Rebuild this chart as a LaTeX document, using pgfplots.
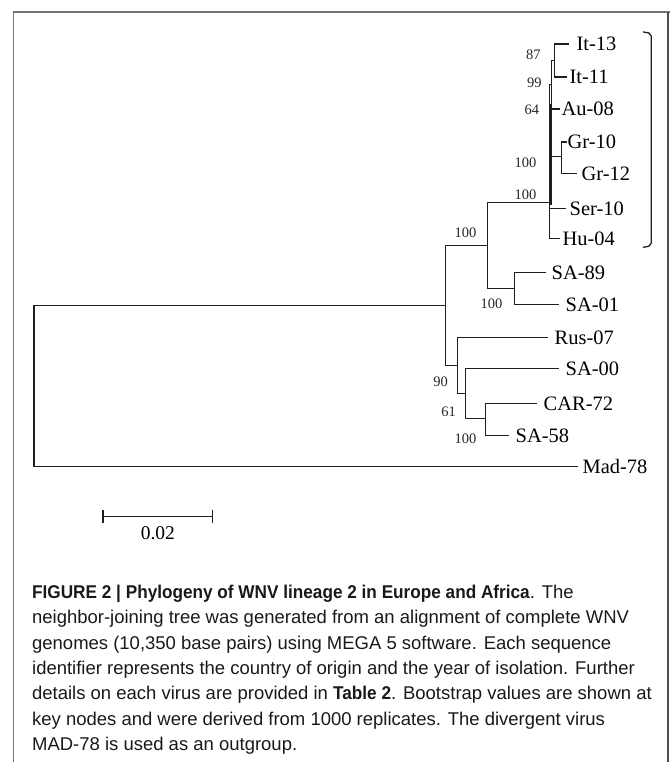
\documentclass[border=0pt]{standalone}
\usepackage{fontspec}
\setmainfont{Liberation Serif}
\newfontfamily\capfont[BoldFeatures={FakeStretch=0.93}]{Liberation Sans}
\usepackage{pgfplots}
\pgfplotsset{compat=1.18}
\begin{document}
\begin{tikzpicture}
\begin{axis}[x=1pt, y=1pt, y dir=reverse, xmin=0, xmax=671, ymin=0, ymax=763,
  hide axis, clip=false,
  tr/.style={line width=1.3pt, color=black!88, mark=none, solid, line join=miter, line cap=rect}]
\path (axis cs:0,0) rectangle (axis cs:671,763);
% frame
\addplot[line width=1.5pt, color=black!55, mark=none, solid] coordinates {(13.3,763)(13.3,12)(671,12)};
\addplot[line width=1.5pt, color=black!70, mark=none, solid] coordinates {(668.5,12)(668.5,763)};
% tree
\addplot[tr] coordinates {(569,44)(555,44)(555,77)(567,77)};
\addplot[tr] coordinates {(555,60.5)(552,60.5)(552,109)(560,109)};
\addplot[tr] coordinates {(567,142)(562,142)(562,174)(577,174)};
\addplot[tr] coordinates {(552,84.75)(550,84.75)(550,239)(560,239)};
\addplot[tr, line width=1.1pt] coordinates {(551.5,105)(551.5,205)};
\addplot[tr] coordinates {(550,157)(562,157)};
\addplot[tr] coordinates {(550,209)(566,209)};
\addplot[tr] coordinates {(550,203)(488,203)(488,289)(515,289)};
\addplot[tr] coordinates {(546,273)(515,273)(515,305)(559,305)};
\addplot[tr] coordinates {(488,246)(446,246)(446,366)(458,366)};
\addplot[tr] coordinates {(548,338)(458,338)(458,394)(466,394)};
\addplot[tr] coordinates {(559,369)(466,369)(466,419)(486,419)};
\addplot[tr] coordinates {(537,404)(486,404)(486,436)(509,436)};
\addplot[tr] coordinates {(446,306)(34,306)(34,467)(578,467)};
% bracket
\addplot[tr, line join=round, line cap=round] coordinates {(644,32)(649.5,33)(651.8,36)(651.8,243.5)(649.5,246.5)(644,247.5)};
% scale bar
\addplot[tr, line cap=butt] coordinates {(103,517)(213,517)};
\addplot[tr, line cap=butt] coordinates {(103,510.5)(103,523.5)};
\addplot[tr, line cap=butt] coordinates {(213,510.5)(213,523.5)};
% leaf labels
\begin{scope}[every node/.style={anchor=base west, inner sep=0pt, font=\fontsize{20.5}{24}\selectfont}]
\node at (axis cs:577,50.5) {It-13};
\node at (axis cs:570,83.5) {It-11};
\node at (axis cs:562,115.5) {Au-08};
\node at (axis cs:568,148.5) {Gr-10};
\node at (axis cs:582,180.5) {Gr-12};
\node at (axis cs:570,215.5) {Ser-10};
\node at (axis cs:563,245.5) {Hu-04};
\node at (axis cs:552,279.5) {SA-89};
\node at (axis cs:566,311.5) {SA-01};
\node at (axis cs:555,344.5) {Rus-07};
\node at (axis cs:566,375.5) {SA-00};
\node at (axis cs:544,410.5) {CAR-72};
\node at (axis cs:516,442.5) {SA-58};
\node at (axis cs:583,473.5) {Mad-78};
\end{scope}
% bootstrap values
\begin{scope}[every node/.style={anchor=center, inner sep=0pt, text=black!85, font=\fontsize{14.5}{16}\selectfont}]
\node at (axis cs:534,55) {87};
\node at (axis cs:535,83) {99};
\node at (axis cs:532.5,110) {64};
\node at (axis cs:526,163) {100};
\node at (axis cs:526,195) {100};
\node at (axis cs:466,233) {100};
\node at (axis cs:492,304) {100};
\node at (axis cs:441,382) {90};
\node at (axis cs:449,412.5) {61};
\node at (axis cs:466,439) {100};
\end{scope}
\node[anchor=center, inner sep=0pt, font=\fontsize{19.5}{22}\selectfont] at (axis cs:158,534) {0.02};
% caption
\begin{scope}[every node/.style={anchor=base west, inner sep=0pt, text=black!90, font=\capfont\fontsize{18.5}{22}\selectfont}]
\node at (axis cs:32,599) {{\bfseries FIGURE 2 | Phylogeny of WNV lineage 2 in Europe and Africa}. The};
\node at (axis cs:32,624.4) {neighbor-joining tree was generated from an alignment of complete WNV};
\node at (axis cs:32,649.8) {genomes (10,350 base pairs) using MEGA 5 software. Each sequence};
\node at (axis cs:32,675.2) {identifier represents the country of origin and the year of isolation. Further};
\node at (axis cs:32,700.6) {details on each virus are provided in {\bfseries Table 2}. Bootstrap values are shown at};
\node at (axis cs:32,726) {key nodes and were derived from 1000 replicates. The divergent virus};
\node at (axis cs:32,751.4) {MAD-78 is used as an outgroup.};
\end{scope}
\end{axis}
\end{tikzpicture}
\end{document}
